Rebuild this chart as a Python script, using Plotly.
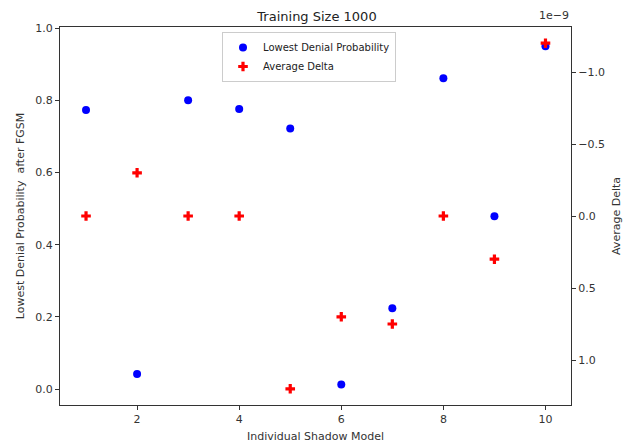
import plotly.graph_objects as go

models = [1, 2, 3, 4, 5, 6, 7, 8, 9, 10]
lowest_denial = [0.773, 0.042, 0.800, 0.776, 0.722, 0.013, 0.224, 0.861, 0.479, 0.950]
avg_delta = [0.0, -0.3e-9, 0.0, 0.0, 1.2e-9, 0.7e-9, 0.75e-9, 0.0, 0.3e-9, -1.2e-9]

x_ticks = [2, 4, 6, 8, 10]
y_ticks = [0.0, 0.2, 0.4, 0.6, 0.8, 1.0]
y2_ticks = [-1.0e-9, -0.5e-9, 0.0, 0.5e-9, 1.0e-9]
y2_ticktext = ["\u22121.0", "\u22120.5", "0.0", "0.5", "1.0"]

font = "DejaVu Sans"
fig = go.Figure()
fig.add_trace(go.Scatter(
    x=models, y=lowest_denial, mode="markers", name="Lowest Denial Probability",
    marker=dict(color="#0000ff", size=8, symbol="circle"), yaxis="y"))
fig.add_trace(go.Scatter(
    x=models, y=avg_delta, mode="markers", name="Average Delta",
    marker=dict(color="#ff0000", size=8, symbol="cross"), yaxis="y2"))

axcommon = dict(showline=True, linecolor="#333333", linewidth=1, ticks="outside",
                ticklen=4, tickcolor="#333333", showgrid=False, zeroline=False,
                automargin=False,
                tickfont=dict(family=font, size=11, color="#333333"))

fig.update_layout(
    width=634, height=444,
    margin=dict(l=60, r=63, t=27, b=39),
    paper_bgcolor="white", plot_bgcolor="white",
    font=dict(family=font, color="#333333"),
    title=dict(text="Training Size 1000", x=0.5, xanchor="center",
               y=1 - 16 / 444, yanchor="middle", yref="container",
               font=dict(family=font, size=13, color="#222222")),
    xaxis=dict(range=[0.49, 10.5], tickvals=x_ticks, mirror=True,
               title=dict(text="Individual Shadow Model", standoff=7,
                          font=dict(family=font, size=11, color="#333333")),
               **axcommon),
    yaxis=dict(range=[-0.044, 1.003], tickvals=y_ticks, tickformat=".1f",
               title=dict(text="Lowest Denial Probability  after FGSM", standoff=8,
                          font=dict(family=font, size=11, color="#333333")),
               **axcommon),
    yaxis2=dict(overlaying="y", side="right", range=[1.3125e-9, -1.3125e-9],
                tickvals=y2_ticks, ticktext=y2_ticktext,
                title=dict(text="Average Delta", standoff=8,
                           font=dict(family=font, size=11, color="#333333")),
                **axcommon),
    legend=dict(x=(222 - 60) / 511, y=1 - (32 - 27) / 378, xanchor="left", yanchor="top",
                bgcolor="rgba(255,255,255,0.8)", bordercolor="#cccccc", borderwidth=1,
                font=dict(family=font, size=10, color="#222222"),
                itemwidth=30, tracegroupgap=0),
    showlegend=True,
    annotations=[dict(text="1e\u22129", xref="paper", yref="paper", x=1.0, y=1.0,
                      xanchor="right", yanchor="bottom", yshift=3, showarrow=False,
                      font=dict(family=font, size=11, color="#333333"))],
)

fig.write_html("out.html")
